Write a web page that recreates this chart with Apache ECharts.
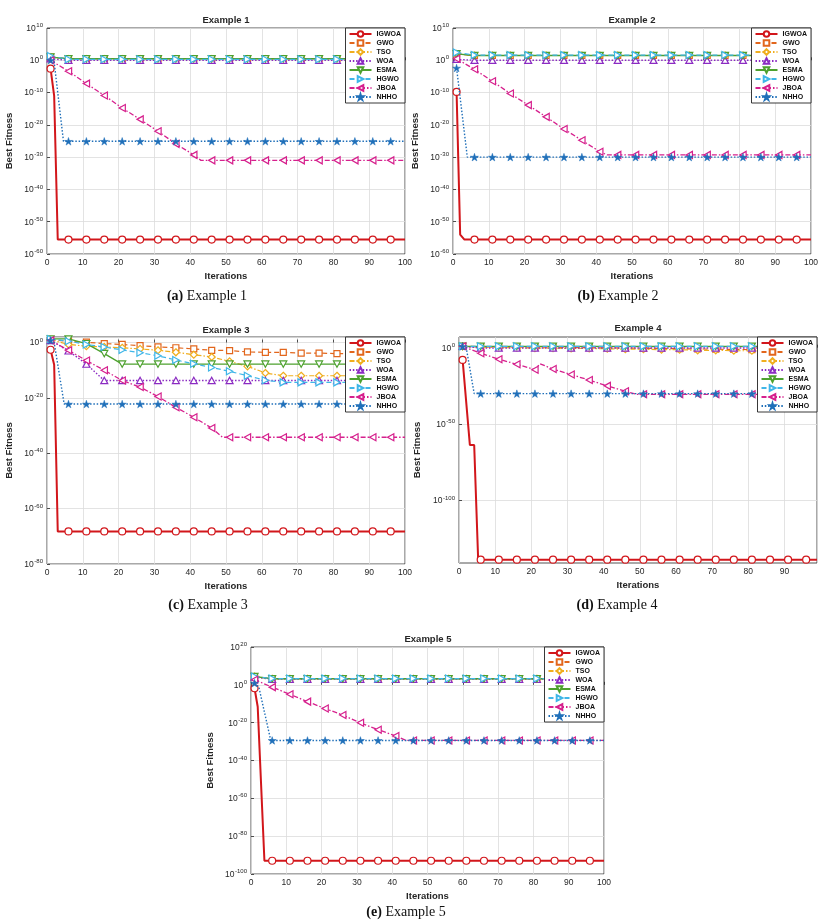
<!DOCTYPE html>
<html><head><meta charset="utf-8">
<script src="https://cdn.jsdelivr.net/npm/echarts@6/dist/echarts.min.js"></script>
<style>html,body{margin:0;padding:0;background:#fff}#c{width:827px;height:923px}</style>
</head><body><div id="c"></div>
<script>
const names = ['IGWOA','GWO','TSO','WOA','ESMA','HGWO','JBOA','NHHO'];
const markIters = [1,6,11,16,21,26,31,36,41,46,51,56,61,66,71,76,81,86,91,96];
const xTicks = [0,10,20,30,40,50,60,70,80,90,100];

// ---------- Example 1 ----------
const ex1IGWOA = [2.5e-3,3e-56,3e-56,3e-56,3e-56,3e-56,3e-56,3e-56,3e-56,3e-56,3e-56,3e-56,3e-56,3e-56,3e-56,3e-56,3e-56,3e-56,3e-56,3e-56];
const ex1IGWOAbp = [[2,1e-11],[3,3e-56],[100,3e-56]];
const ex1GWO = [10,3,3,3,3,3,3,3,3,3,3,3,3,3,3,3,3,3,3,3];
const ex1GWObp = [[100,3]];
const ex1TSO = [10,2.5,2.5,2.5,2.5,2.5,2.5,2.5,2.5,2.5,2.5,2.5,2.5,2.5,2.5,2.5,2.5,2.5,2.5,2.5];
const ex1TSObp = [[100,2.5]];
const ex1WOA = [3,1,1,1,1,1,1,1,1,1,1,1,1,1,1,1,1,1,1,1];
const ex1WOAbp = [[100,1]];
const ex1ESMA = [10,3,3,3,3,3,3,3,3,3,3,3,3,3,3,3,3,3,3,3];
const ex1ESMAbp = [[100,3]];
const ex1HGWO = [20,2,2,2,2,2,2,2,2,2,2,2,2,2,2,2,2,2,2,2];
const ex1HGWObp = [[100,2]];
const ex1JBOA = [1,4e-4,6e-8,1.3e-11,1.6e-15,5e-19,1e-22,1.3e-26,5e-30,1e-31,1e-31,1e-31,1e-31,1e-31,1e-31,1e-31,1e-31,1e-31,1e-31,1e-31];
const ex1JBOAbp = [[43,1e-31],[100,1e-31]];
const ex1NHHO = [1,8e-26,8e-26,8e-26,8e-26,8e-26,8e-26,8e-26,8e-26,8e-26,8e-26,8e-26,8e-26,8e-26,8e-26,8e-26,8e-26,8e-26,8e-26,8e-26];
const ex1NHHObp = [[2,0.3],[4.6,8e-26],[100,8e-26]];

// ---------- Example 2 ----------
const ex2IGWOA = [1.6e-10,3e-56,3e-56,3e-56,3e-56,3e-56,3e-56,3e-56,3e-56,3e-56,3e-56,3e-56,3e-56,3e-56,3e-56,3e-56,3e-56,3e-56,3e-56,3e-56];
const ex2IGWOAbp = [[2,1e-54],[3.2,3e-56],[100,3e-56]];
const ex2GWO = [100,30,30,30,30,30,30,30,30,30,30,30,30,30,30,30,30,30,30,30];
const ex2GWObp = [[100,30]];
const ex2TSO = [100,30,30,30,30,30,30,30,30,30,30,30,30,30,30,30,30,30,30,30];
const ex2TSObp = [[100,30]];
const ex2WOA = [2,1,1,1,1,1,1,1,1,1,1,1,1,1,1,1,1,1,1,1];
const ex2WOAbp = [[100,1]];
const ex2ESMA = [100,30,30,30,30,30,30,30,30,30,30,30,30,30,30,30,30,30,30,30];
const ex2ESMAbp = [[100,30]];
const ex2HGWO = [250,40,40,40,40,40,40,40,40,40,40,40,40,40,40,40,40,40,40,40];
const ex2HGWObp = [[100,40]];
const ex2JBOA = [3,1.6e-3,3e-7,5e-11,1.3e-14,3e-18,5e-22,1.6e-25,5e-29,5e-30,5e-30,5e-30,5e-30,5e-30,5e-30,5e-30,5e-30,5e-30,5e-30,5e-30];
const ex2JBOAbp = [[43,5e-30],[100,5e-30]];
const ex2NHHO = [4e-3,1e-30,1e-30,1e-30,1e-30,1e-30,1e-30,1e-30,1e-30,1e-30,1e-30,1e-30,1e-30,1e-30,1e-30,1e-30,1e-30,1e-30,1e-30,1e-30];
const ex2NHHObp = [[4,1e-30],[100,1e-30]];

// ---------- Example 3 ----------
const ex3IGWOA = [2.5e-3,6e-69,6e-69,6e-69,6e-69,6e-69,6e-69,6e-69,6e-69,6e-69,6e-69,6e-69,6e-69,6e-69,6e-69,6e-69,6e-69,6e-69,6e-69,6e-69];
const ex3IGWOAbp = [[2,1e-8],[3,6e-69],[100,6e-69]];
const ex3GWO = [10,3,1.3,0.4,0.2,0.08,0.025,0.013,5e-3,1.6e-3,1.3e-3,4e-4,3e-4,3e-4,1.6e-4,1.6e-4,1e-4,8e-5,6e-5,6e-5];
const ex3GWObp = [[100,6e-5]];
const ex3TSO = [10,0.2,0.05,0.025,0.013,5e-3,1.6e-3,3e-4,4e-5,6e-6,1.6e-7,2.5e-9,1e-11,1e-12,1e-12,1e-12,1e-12,1e-12,1e-12,1e-12];
const ex3TSObp = [[100,1e-12]];
const ex3WOA = [6,1e-3,1.6e-8,2e-14,2e-14,2e-14,2e-14,2e-14,2e-14,2e-14,2e-14,2e-14,2e-14,2e-14,2e-14,2e-14,2e-14,2e-14,2e-14,2e-14];
const ex3WOAbp = [[100,2e-14]];
const ex3ESMA = [20,20,0.4,1e-4,1.6e-8,1.6e-8,1.6e-8,1.6e-8,1.6e-8,1.6e-8,1.6e-8,1.6e-8,1.6e-8,1.6e-8,1.6e-8,1.6e-8,1.6e-8,1.6e-8,1.6e-8,1.6e-8];
const ex3ESMAbp = [[100,1.6e-8]];
const ex3HGWO = [20,3,0.2,0.025,2e-3,2e-4,1.6e-5,5e-7,2e-8,1e-9,4e-11,1e-12,2.5e-14,4e-15,4e-15,4e-15,4e-15,4e-15,4e-15,4e-15];
const ex3HGWObp = [[100,4e-15]];
const ex3JBOA = [6,1.6e-3,3e-7,1e-10,2e-14,8e-17,3e-20,4e-24,1e-27,1.3e-31,6e-35,6e-35,6e-35,6e-35,6e-35,6e-35,6e-35,6e-35,6e-35,6e-35];
const ex3JBOAbp = [[49,6e-35],[100,6e-35]];
const ex3NHHO = [6,6e-23,6e-23,6e-23,6e-23,6e-23,6e-23,6e-23,6e-23,6e-23,6e-23,6e-23,6e-23,6e-23,6e-23,6e-23,6e-23,6e-23,6e-23,6e-23];
const ex3NHHObp = [[2,1],[4.8,6e-23],[100,6e-23]];

// ---------- Example 4 ----------
const ex4IGWOA = [1e-8,1.6e-139,1.6e-139,1.6e-139,1.6e-139,1.6e-139,1.6e-139,1.6e-139,1.6e-139,1.6e-139,1.6e-139,1.6e-139,1.6e-139,1.6e-139,1.6e-139,1.6e-139,1.6e-139,1.6e-139,1.6e-139,1.6e-139];
const ex4IGWOAbp = [[3,2e-64],[4.2,2e-64],[5.3,1.6e-139],[99,1.6e-139]];
const ex4GWO = [8,5,3,3,2,2,1,1,0.8,0.5,0.4,0.3,0.2,0.15,0.1,0.08,0.05,0.03,0.02,0.02];
const ex4GWObp = [[99,0.02]];
const ex4TSO = [8,3,1,1,0.5,0.5,0.3,0.3,0.2,0.1,0.1,0.05,0.05,0.02,0.02,0.01,0.01,0.01,5e-3,5e-3];
const ex4TSObp = [[99,5e-3]];
const ex4WOA = [8,0.6,0.6,0.6,0.6,0.6,0.6,0.6,0.6,0.6,0.6,0.6,0.6,0.6,0.6,0.6,0.6,0.6,0.6,0.6];
const ex4WOAbp = [[99,0.6]];
const ex4ESMA = [8,8,8,8,8,8,8,8,8,8,8,8,8,8,8,8,8,8,8,8];
const ex4ESMAbp = [[99,8]];
const ex4HGWO = [8,8,8,8,8,8,8,8,8,8,8,8,8,8,8,8,8,8,8,8];
const ex4HGWObp = [[99,8]];
const ex4JBOA = [8,2.5e-4,3e-8,1.3e-11,4e-15,1e-14,2.5e-18,6e-22,1e-25,3e-29,3e-31,3e-31,3e-31,3e-31,3e-31,3e-31,3e-31,3e-31,3e-31,3e-31];
const ex4JBOAbp = [[22.4,3e-11],[49,3e-31],[99,3e-31]];
const ex4NHHO = [8,8e-31,8e-31,8e-31,8e-31,8e-31,8e-31,8e-31,8e-31,8e-31,8e-31,8e-31,8e-31,8e-31,8e-31,8e-31,8e-31,8e-31,8e-31,8e-31];
const ex4NHHObp = [[2,1],[4.2,8e-31],[99,8e-31]];

// ---------- Example 5 ----------
const ex5IGWOA = [0.016,1e-93,1e-93,1e-93,1e-93,1e-93,1e-93,1e-93,1e-93,1e-93,1e-93,1e-93,1e-93,1e-93,1e-93,1e-93,1e-93,1e-93,1e-93,1e-93];
const ex5IGWOAbp = [[1.9,2.5e-12],[3.8,1e-93],[100,1e-93]];
const ex5GWO = [2.5e4,1600,1600,1600,1600,1600,1600,1600,1600,1600,1600,1600,1600,1600,1600,1600,1600,1600,1600,1600];
const ex5GWObp = [[100,1600]];
const ex5TSO = [2.5e4,1600,1600,1600,1600,1600,1600,1600,1600,1600,1600,1600,1600,1600,1600,1600,1600,1600,1600,1600];
const ex5TSObp = [[100,1600]];
const ex5WOA = [1e4,1000,1000,1000,1000,1000,1000,1000,1000,1000,1000,1000,1000,1000,1000,1000,1000,1000,1000,1000];
const ex5WOAbp = [[100,1000]];
const ex5ESMA = [2.5e4,1600,1600,1600,1600,1600,1600,1600,1600,1600,1600,1600,1600,1600,1600,1600,1600,1600,1600,1600];
const ex5ESMAbp = [[100,1600]];
const ex5HGWO = [2.5e4,2000,2000,2000,2000,2000,2000,2000,2000,2000,2000,2000,2000,2000,2000,2000,2000,2000,2000,2000];
const ex5HGWObp = [[100,2000]];
const ex5JBOA = [500,0.06,1e-5,1.3e-9,3e-13,1e-16,8e-21,2e-24,1e-27,4e-30,4e-30,4e-30,4e-30,4e-30,4e-30,4e-30,4e-30,4e-30,4e-30,4e-30];
const ex5JBOAbp = [[44,4e-30],[100,4e-30]];
const ex5NHHO = [8,4e-30,4e-30,4e-30,4e-30,4e-30,4e-30,4e-30,4e-30,4e-30,4e-30,4e-30,4e-30,4e-30,4e-30,4e-30,4e-30,4e-30,4e-30,4e-30];
const ex5NHHObp = [[2.2,0.1],[5.6,4e-30],[100,4e-30]];

const titles = ['Example 1','Example 2','Example 3','Example 4','Example 5'];
const captionTags = ['(a)','(b)','(c)','(d)','(e)'];

const exData = [
  [[ex1IGWOA,ex1IGWOAbp],[ex1GWO,ex1GWObp],[ex1TSO,ex1TSObp],[ex1WOA,ex1WOAbp],[ex1ESMA,ex1ESMAbp],[ex1HGWO,ex1HGWObp],[ex1JBOA,ex1JBOAbp],[ex1NHHO,ex1NHHObp]],
  [[ex2IGWOA,ex2IGWOAbp],[ex2GWO,ex2GWObp],[ex2TSO,ex2TSObp],[ex2WOA,ex2WOAbp],[ex2ESMA,ex2ESMAbp],[ex2HGWO,ex2HGWObp],[ex2JBOA,ex2JBOAbp],[ex2NHHO,ex2NHHObp]],
  [[ex3IGWOA,ex3IGWOAbp],[ex3GWO,ex3GWObp],[ex3TSO,ex3TSObp],[ex3WOA,ex3WOAbp],[ex3ESMA,ex3ESMAbp],[ex3HGWO,ex3HGWObp],[ex3JBOA,ex3JBOAbp],[ex3NHHO,ex3NHHObp]],
  [[ex4IGWOA,ex4IGWOAbp],[ex4GWO,ex4GWObp],[ex4TSO,ex4TSObp],[ex4WOA,ex4WOAbp],[ex4ESMA,ex4ESMAbp],[ex4HGWO,ex4HGWObp],[ex4JBOA,ex4JBOAbp],[ex4NHHO,ex4NHHObp]],
  [[ex5IGWOA,ex5IGWOAbp],[ex5GWO,ex5GWObp],[ex5TSO,ex5TSObp],[ex5WOA,ex5WOAbp],[ex5ESMA,ex5ESMAbp],[ex5HGWO,ex5HGWObp],[ex5JBOA,ex5JBOAbp],[ex5NHHO,ex5NHHObp]]
];

// ---------- layout / style ----------
const grids = [
  {left:47, top:28, width:358, height:226},
  {left:453, top:28, width:358, height:226},
  {left:47, top:337, width:358, height:227},
  {left:459, top:337, width:358, height:226},
  {left:251, top:647, width:353, height:227}
];
const yCfg = [
  {min:-60, max:10, interval:10, step:10},
  {min:-60, max:10, interval:10, step:10},
  {min:-80, max:2, interval:20, step:20},
  {min:-141, max:7, custom:[-100,-50,0], step:50},
  {min:-100, max:20, interval:20, step:20}
];
const xMax = [100,100,100,99,100];
const yNameGap = [33,33,33,37,36];
const titlePos = [[226,20],[632,20],[226,330],[638,328],[428,639]];
const captionPos = [[207,296],[618,296],[208,605],[617,605],[406,912]];

const FONT = '"Liberation Sans", Arial, sans-serif';
const INK = '#262626';

const styles = [
  {c:'#d2161b', dash:'solid', w:2, sym:'circle', hollow:true, size:7},
  {c:'#e2661c', dash:[5,3], w:1.2, sym:'rect', hollow:true, size:6},
  {c:'#f0ae1e', dash:[5,2,1.5,2], w:1.2, sym:'diamond', hollow:true, size:7},
  {c:'#8b2bc2', dash:[1.5,1.8], w:1.4, sym:'path://M5,0 L10,9 L0,9 Z', hollow:true, size:7},
  {c:'#4da12e', dash:'solid', w:1.3, sym:'path://M0,0 L10,0 L5,9 Z', hollow:true, size:7},
  {c:'#3fb6e8', dash:[5,3], w:1.2, sym:'path://M0,0 L9,5 L0,10 Z', hollow:true, size:7},
  {c:'#d6208d', dash:[5,2,1.5,2], w:1.3, sym:'path://M9,0 L0,5 L9,10 Z', hollow:true, size:7},
  {c:'#1f6fb9', dash:[1.5,1.8], w:1.4, sym:'path://M50,0 L61,35 L98,35 L68,57 L79,91 L50,70 L21,91 L32,57 L2,35 L39,35 Z', hollow:false, size:8}
];

function buildData(vals, bp) {
  const pts = markIters.map((x, i) => ({value:[x, Math.log10(vals[i])]}));
  bp.forEach(p => pts.push({value:[p[0], Math.log10(p[1])], symbol:'none'}));
  pts.sort((a, b) => a.value[0] - b.value[0]);
  return pts;
}

const option = {
  animation:false,
  backgroundColor:'#fff',
  grid:[], xAxis:[], yAxis:[], series:[], legend:[], graphic:[]
};

grids.forEach((g, k) => {
  option.grid.push(Object.assign({show:true, borderColor:INK, borderWidth:0.8, backgroundColor:'#fff'}, g));
  option.xAxis.push({
    type:'value', gridIndex:k, min:0, max:xMax[k], interval:10,
    name:'Iterations', nameLocation:'middle', nameGap:17,
    nameTextStyle:{fontFamily:FONT, fontSize:9.5, fontWeight:'bold', color:INK},
    axisLine:{show:false},
    axisTick:{inside:true, length:3, lineStyle:{color:INK, width:0.8}},
    axisLabel:{fontFamily:FONT, fontSize:8.5, color:INK, margin:4,
      formatter:v => (xTicks.indexOf(v) >= 0 ? String(v) : '')},
    splitLine:{show:true, lineStyle:{color:'#dcdcdc', width:0.8}}
  });
  const yc = yCfg[k];
  const ya = {
    type:'value', gridIndex:k, min:yc.min, max:yc.max,
    name:'Best Fitness', nameLocation:'middle', nameGap:yNameGap[k],
    nameTextStyle:{fontFamily:FONT, fontSize:9.5, fontWeight:'bold', color:INK},
    axisLine:{show:false},
    axisTick:{inside:true, length:3, lineStyle:{color:INK, width:0.8}},
    axisLabel:{margin:4,
      formatter:v => (Math.abs(v % yc.step) < 1e-9 ? '{b|10}{s|' + v + '}' : ''),
      rich:{
        b:{fontFamily:FONT, fontSize:8.5, color:INK, verticalAlign:'bottom', lineHeight:10},
        s:{fontFamily:FONT, fontSize:6, color:INK, verticalAlign:'bottom', lineHeight:6, padding:[0,0,4.5,0.5]}
      }},
    splitLine:{show:true, lineStyle:{color:'#dcdcdc', width:0.8}}
  };
  if (yc.custom) {
    ya.axisLabel.customValues = yc.custom;
    ya.axisTick.customValues = yc.custom;
  } else {
    ya.interval = yc.interval;
  }
  option.yAxis.push(ya);

  exData[k].forEach((pair, i) => {
    const st = styles[i];
    option.series.push({
      type:'line', name:names[i], xAxisIndex:k, yAxisIndex:k,
      data:buildData(pair[0], pair[1]),
      symbol:st.sym, symbolSize:st.size, symbolKeepAspect:true, showAllSymbol:true,
      lineStyle:{color:st.c, width:st.w, type:st.dash},
      itemStyle:st.hollow ? {color:'#fff', borderColor:st.c, borderWidth:1.2} : {color:st.c, borderColor:st.c, borderWidth:0.5},
      emphasis:{disabled:true},
      z: 2 + i * 0.01
    });
  });

  option.legend.push({
    orient:'vertical',
    right: 827 - (g.left + g.width), top: g.top,
    itemWidth:22, itemHeight:7, itemGap:1,
    padding:[2,4,2,3],
    backgroundColor:'#fff', borderColor:'#222', borderWidth:0.9, borderRadius:0,
    textStyle:{fontFamily:FONT, fontSize:7, fontWeight:'bold', color:'#111', lineHeight:8},
    data:names, selectedMode:false, z:10
  });

  option.graphic.push({
    type:'text', x:titlePos[k][0], y:titlePos[k][1], z:20,
    style:{text:titles[k], fontFamily:FONT, fontSize:9.5, fontWeight:'bold', fill:INK, align:'center', verticalAlign:'middle'}
  });
  option.graphic.push({
    type:'text', x:captionPos[k][0], y:captionPos[k][1], z:20,
    style:{text:'{t|' + captionTags[k] + '} ' + titles[k],
      fontFamily:'"Liberation Serif", "Times New Roman", serif', fontSize:14, fill:'#111',
      align:'center', verticalAlign:'middle',
      rich:{t:{fontFamily:'"Liberation Serif", "Times New Roman", serif', fontSize:14, fontWeight:'bold', fill:'#111'}}}
  });
});

const chart = echarts.init(document.getElementById('c'), null, {renderer:'canvas'});
chart.setOption(option);
</script>
</body></html>
